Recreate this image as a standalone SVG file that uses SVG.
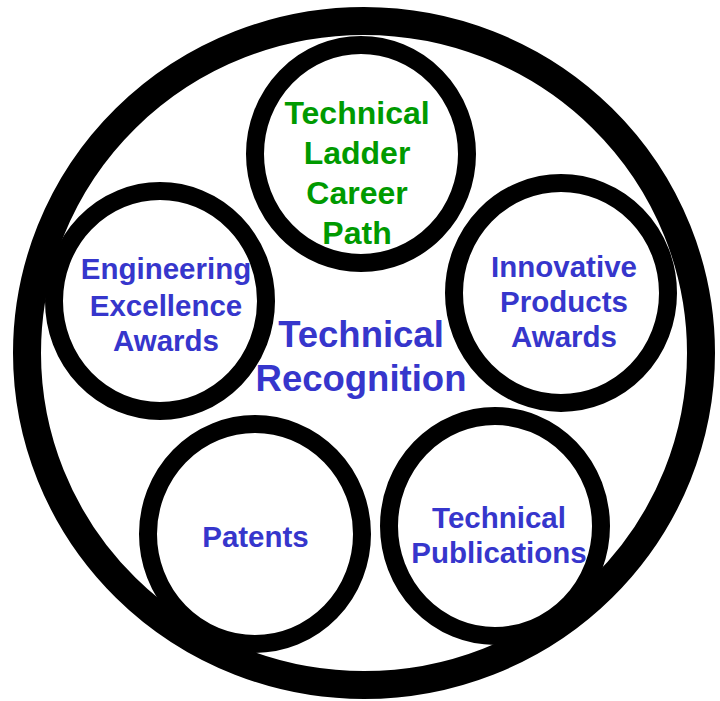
<svg xmlns="http://www.w3.org/2000/svg" width="720" height="701" viewBox="0 0 720 701">
<style>
.ring{fill:none;stroke:#000;stroke-width:28}
.node{fill:none;stroke:#000;stroke-width:18}
text{font-family:"Liberation Sans",Arial,sans-serif;font-weight:bold;text-anchor:middle}
.g{fill:#009a00;font-size:32px}
.b{fill:#3636cc;font-size:29.5px}
.c{fill:#3636cc;font-size:36.5px}
</style>
<rect width="720" height="701" fill="#fff"/>
<g id="outer">
<ellipse class="ring" cx="364" cy="353" rx="337" ry="332"/>
<text class="c" x="361" y="347">Technical</text>
<text class="c" x="361" y="391">Recognition</text>
</g>
<g id="ladder">
<ellipse class="node" cx="361" cy="154" rx="106" ry="109"/>
<text class="g" x="357" y="124">Technical</text>
<text class="g" x="357" y="164">Ladder</text>
<text class="g" x="357" y="204">Career</text>
<text class="g" x="357" y="244">Path</text>
</g>
<g id="engineering">
<ellipse class="node" cx="160" cy="301" rx="106" ry="110"/>
<text class="b" x="166" y="279">Engineering</text>
<text class="b" x="166" y="316">Excellence</text>
<text class="b" x="166" y="351">Awards</text>
</g>
<g id="innovative">
<ellipse class="node" cx="561" cy="293" rx="107" ry="110"/>
<text class="b" x="564" y="277">Innovative</text>
<text class="b" x="564" y="312">Products</text>
<text class="b" x="564" y="347">Awards</text>
</g>
<g id="patents">
<ellipse class="node" cx="255" cy="534" rx="107" ry="110"/>
<text class="b" x="255.5" y="547">Patents</text>
</g>
<g id="publications">
<ellipse class="node" cx="495" cy="526" rx="106" ry="110"/>
<text class="b" x="499" y="528">Technical</text>
<text class="b" x="499" y="563">Publications</text>
</g>
<g id="connectors"></g>
</svg>
